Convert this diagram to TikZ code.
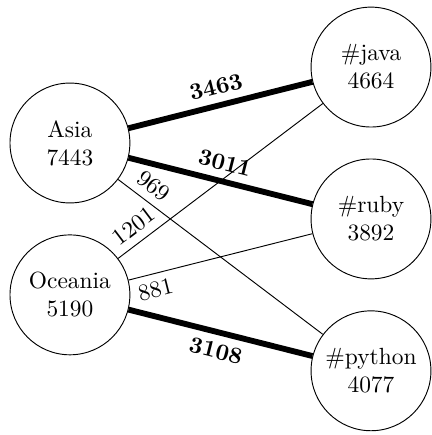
\documentclass[tikz,border=0pt]{standalone}
\usetikzlibrary{positioning}
\begin{document}
\begin{tikzpicture}[
  place/.style={draw, circle, minimum size=1.8cm, inner sep=1pt, align=center},
  heavy/.style={line width=2.5pt},
  toplabel/.style={above, sloped, font=\bfseries},
  lowlabel/.style={below, sloped, font=\bfseries}
]
\useasboundingbox (-1.05,-4.384) rectangle (5.435,2.147);
% regions
\node[place] (asia) at (0,0) {Asia\\7443};
\node[place] (oceania) at (0,-2.28) {Oceania\\5190};
% tags
\node[place] (java) at (4.52,1.14) {\#java\\4664};
\node[place] (ruby) at (4.52,-1.14) {\#ruby\\3892};
\node[place] (python) at (4.52,-3.42) {\#python\\4077};
% links
\draw[heavy] (asia) -- node[toplabel] {3463} (java);
\draw[heavy] (asia) -- node[toplabel] {3011} (ruby);
\draw (asia) -- node[very near start, above, sloped] {969} (python);
\draw (oceania) -- node[very near start, above, sloped] {1201} (java);
\draw (oceania) -- node[very near start, below, sloped] {881} (ruby);
\draw[heavy] (oceania) -- node[lowlabel] {3108} (python);
\end{tikzpicture}
\end{document}
